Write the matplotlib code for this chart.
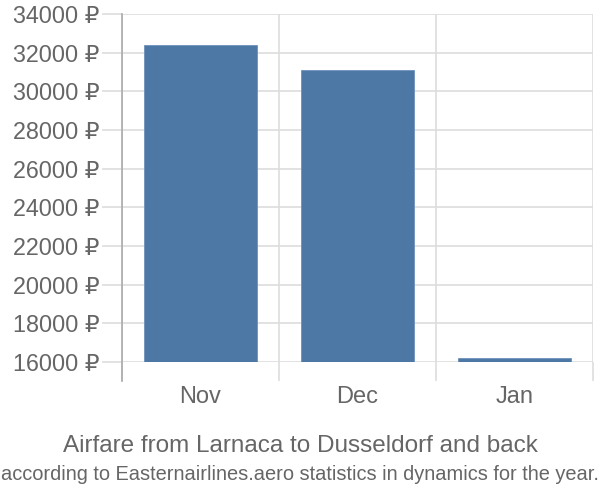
import matplotlib
matplotlib.use("Agg")
import matplotlib.pyplot as plt

months = ["Nov", "Dec", "Jan"]
prices = [32400, 31100, 16190]
yticks = list(range(16000, 34001, 2000))
ytick_labels = [f"{v} ₽" for v in yticks]

FONT = ["Liberation Sans", "DejaVu Sans"]
plt.rcParams["font.family"] = FONT

fig = plt.figure(figsize=(6, 5), dpi=100)
ax = fig.add_axes([122/600, 1-362/500, (593-122)/600, (362-14)/500])

ax.set_ylim(16000, 34000)
ax.set_xlim(-0.5, len(months) - 0.5)

ax.bar(range(len(months)), prices, width=0.72, bottom=0, color="#4d78a6",
       edgecolor="#6f92bb", linewidth=0.6, zorder=3)

ax.set_yticks(yticks)
ax.set_yticklabels(ytick_labels, fontsize=16.8, color="#666666")
ax.set_xticks(range(len(months)))
ax.set_xticklabels(months, fontsize=17, color="#666666")
ax.tick_params(axis="x", which="major", length=0, pad=17)
ax.set_xticks([i - 0.5 for i in range(len(months) + 1)], minor=True)
ax.tick_params(axis="x", which="minor", length=13.7, color="#dddddd", width=1.2)
ax.tick_params(axis="y", length=14.4, color="#dddddd", width=1.2, pad=2)

ax.grid(True, axis="y", color="#dddddd", linewidth=1.2, zorder=0)
ax.grid(True, axis="x", which="minor", color="#dddddd", linewidth=1.2, zorder=0)

for s in ["top", "right", "bottom"]:
    ax.spines[s].set_visible(False)
ax.spines["left"].set_color("#aaaaaa")
ax.spines["left"].set_linewidth(1.2)
ax.spines["left"].set_bounds(16000 - 19/348*18000, 34000)

fig.text(0.5, 1-446/500, "Airfare from Larnaca to Dusseldorf and back",
         ha="center", va="center", fontsize=17.5, color="#666666")
fig.text(0.5, 1-474/500,
         "according to Easternairlines.aero statistics in dynamics for the year.",
         ha="center", va="center", fontsize=14.4, color="#666666",
         family=["Liberation Sans Narrow", "Liberation Sans", "DejaVu Sans"])

fig.savefig("out.png", dpi=100)
